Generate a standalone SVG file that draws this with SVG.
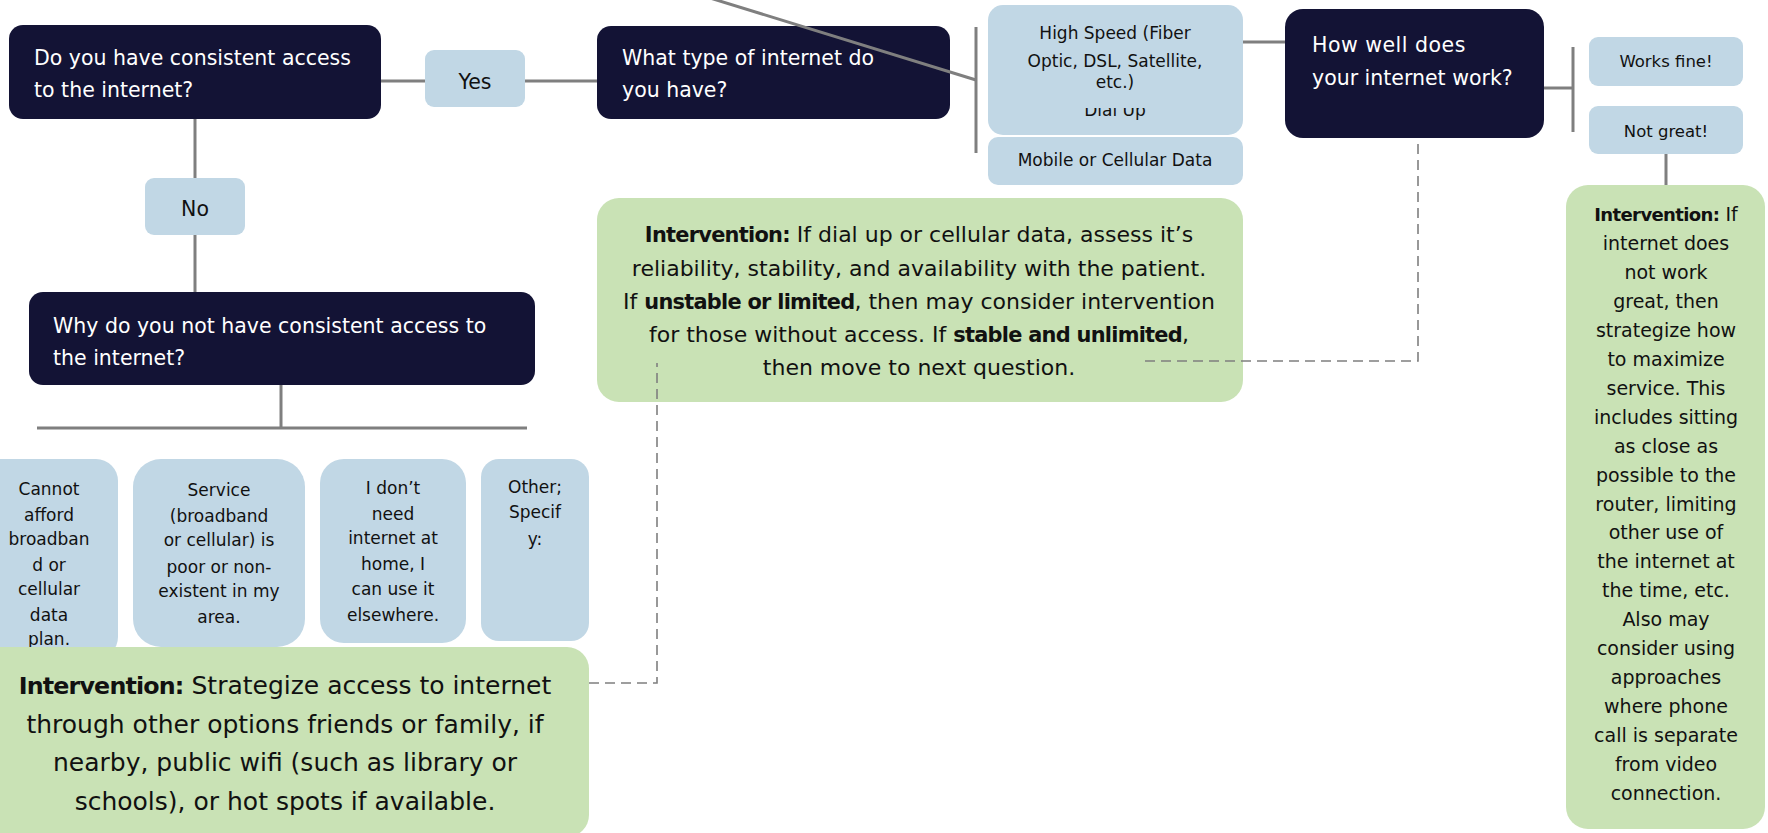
<svg xmlns="http://www.w3.org/2000/svg" width="1768" height="833" viewBox="0 0 1768 833">
<style>
  .dark { fill: #131335; }
  .lb { fill: #c1d7e5; }
  .gr { fill: #c9e2b5; }
  text { font-family: "DejaVu Sans", "Liberation Sans", sans-serif; }
  .q { fill: #ffffff; font-size: 20.5px; }
  .opt { fill: #111111; font-size: 17px; text-anchor: middle; }
  .yn { fill: #111111; font-size: 20.5px; text-anchor: middle; }
  .iv { fill: #111111; text-anchor: middle; }
  .b { font-weight: bold; font-size: 95%; letter-spacing: -0.035em; }
  .conn { stroke: #7f7f7f; stroke-width: 3; fill: none; }
  .dash { stroke: #7f7f7f; stroke-width: 1.6; stroke-dasharray: 10 6; fill: none; }
</style>
<defs>
  <clipPath id="dialClip"><rect x="988" y="108" width="255" height="27"/></clipPath>
</defs>

<g id="q-access">
  <rect class="dark" x="9" y="25" width="372" height="94" rx="14"/>
  <text class="q" x="34" y="65">Do you have consistent access</text>
  <text class="q" x="34" y="97">to the internet?</text>
</g>
<g id="a-yes">
  <rect class="lb" x="425" y="50" width="100" height="57" rx="9"/>
  <text class="yn" x="475" y="89">Yes</text>
</g>
<g id="a-no">
  <rect class="lb" x="145" y="178" width="100" height="57" rx="9"/>
  <text class="yn" x="195" y="216">No</text>
</g>
<g id="q-type">
  <rect class="dark" x="597" y="26" width="353" height="93" rx="14"/>
  <text class="q" x="622" y="65">What type of internet do</text>
  <text class="q" x="622" y="97">you have?</text>
</g>
<g id="opt-highspeed">
  <rect class="lb" x="988" y="5" width="255" height="130" rx="15"/>
  <text class="opt" x="1115" y="39">High Speed (Fiber</text>
  <text class="opt" x="1115" y="67">Optic, DSL, Satellite,</text>
  <text class="opt" x="1115" y="88">etc.)</text>
</g>
<g id="opt-dialup" clip-path="url(#dialClip)">
  <text class="opt" x="1115" y="116">Dial Up</text>
</g>
<g id="opt-mobile">
  <rect class="lb" x="988" y="137" width="255" height="48" rx="10"/>
  <text class="opt" x="1115" y="166">Mobile or Cellular Data</text>
</g>
<g id="q-howwell">
  <rect class="dark" x="1285" y="9" width="259" height="129" rx="18"/>
  <text class="q" x="1312" y="52" style="letter-spacing:0.5px">How well does</text>
  <text class="q" x="1312" y="85">your internet work?</text>
</g>
<g id="a-works">
  <rect class="lb" x="1589" y="37" width="154" height="49" rx="9"/>
  <text class="opt" x="1666" y="67" style="font-size:16.5px">Works fine!</text>
</g>
<g id="a-notgreat">
  <rect class="lb" x="1589" y="106" width="154" height="48" rx="9"/>
  <text class="opt" x="1666" y="137" style="font-size:16.5px">Not great!</text>
</g>
<g id="q-why">
  <rect class="dark" x="29" y="292" width="506" height="93" rx="14"/>
  <text class="q" x="53" y="333">Why do you not have consistent access to</text>
  <text class="q" x="53" y="365">the internet?</text>
</g>
<g id="opt-afford">
  <rect class="lb" x="-20" y="459" width="138" height="200" rx="22"/>
  <text class="opt" x="49" y="495">Cannot</text>
  <text class="opt" x="49" y="521">afford</text>
  <text class="opt" x="49" y="545">broadban</text>
  <text class="opt" x="49" y="571">d or</text>
  <text class="opt" x="49" y="595">cellular</text>
  <text class="opt" x="49" y="621">data</text>
  <text class="opt" x="49" y="645">plan.</text>
</g>
<g id="opt-service">
  <rect class="lb" x="133" y="459" width="172" height="188" rx="28"/>
  <text class="opt" x="219" y="496">Service</text>
  <text class="opt" x="219" y="522">(broadband</text>
  <text class="opt" x="219" y="546">or cellular) is</text>
  <text class="opt" x="219" y="573">poor or non-</text>
  <text class="opt" x="219" y="597">existent in my</text>
  <text class="opt" x="219" y="623">area.</text>
</g>
<g id="opt-noneed">
  <rect class="lb" x="320" y="459" width="146" height="184" rx="24"/>
  <text class="opt" x="393" y="494">I don’t</text>
  <text class="opt" x="393" y="520">need</text>
  <text class="opt" x="393" y="544">internet at</text>
  <text class="opt" x="393" y="570">home, I</text>
  <text class="opt" x="393" y="595">can use it</text>
  <text class="opt" x="393" y="621">elsewhere.</text>
</g>
<g id="opt-other">
  <rect class="lb" x="481" y="459" width="108" height="182" rx="18"/>
  <text class="opt" x="535" y="493">Other;</text>
  <text class="opt" x="535" y="518">Specif</text>
  <text class="opt" x="535" y="545">y:</text>
</g>
<g id="int-access">
  <rect class="gr" x="-20" y="647" width="609" height="190" rx="22"/>
  <text class="iv" x="285" y="694" style="font-size:25px"><tspan class="b">Intervention:</tspan> Strategize access to internet</text>
  <text class="iv" x="285" y="733" style="font-size:25px">through other options friends or family, if</text>
  <text class="iv" x="285" y="771" style="font-size:25px">nearby, public wifi (such as library or</text>
  <text class="iv" x="285" y="810" style="font-size:25px">schools), or hot spots if available.</text>
</g>
<g id="int-type">
  <rect class="gr" x="597" y="198" width="646" height="204" rx="22"/>
  <text class="iv" x="919" y="242" style="font-size:22px"><tspan class="b">Intervention:</tspan> If dial up or cellular data, assess it’s</text>
  <text class="iv" x="919" y="276" style="font-size:22px">reliability, stability, and availability with the patient.</text>
  <text class="iv" x="919" y="309" style="font-size:22px">If <tspan class="b">unstable or limited</tspan>, then may consider intervention</text>
  <text class="iv" x="919" y="342" style="font-size:22px">for those without access. If <tspan class="b">stable and unlimited</tspan>,</text>
  <text class="iv" x="919" y="375" style="font-size:22px">then move to next question.</text>
</g>
<g id="int-service" style="font-size:19px">
  <rect class="gr" x="1566" y="185" width="199" height="644" rx="22"/>
  <text class="iv" x="1666" y="221"><tspan class="b">Intervention:</tspan> If</text>
  <text class="iv" x="1666" y="250">internet does</text>
  <text class="iv" x="1666" y="279">not work</text>
  <text class="iv" x="1666" y="308">great, then</text>
  <text class="iv" x="1666" y="337">strategize how</text>
  <text class="iv" x="1666" y="366">to maximize</text>
  <text class="iv" x="1666" y="395">service. This</text>
  <text class="iv" x="1666" y="424">includes sitting</text>
  <text class="iv" x="1666" y="453">as close as</text>
  <text class="iv" x="1666" y="482">possible to the</text>
  <text class="iv" x="1666" y="511">router, limiting</text>
  <text class="iv" x="1666" y="539">other use of</text>
  <text class="iv" x="1666" y="568">the internet at</text>
  <text class="iv" x="1666" y="597">the time, etc.</text>
  <text class="iv" x="1666" y="626">Also may</text>
  <text class="iv" x="1666" y="655">consider using</text>
  <text class="iv" x="1666" y="684">approaches</text>
  <text class="iv" x="1666" y="713">where phone</text>
  <text class="iv" x="1666" y="742">call is separate</text>
  <text class="iv" x="1666" y="771">from video</text>
  <text class="iv" x="1666" y="800">connection.</text>
</g>

<g id="connectors">
  <line class="conn" x1="381" y1="81" x2="425" y2="81"/>
  <line class="conn" x1="525" y1="81" x2="597" y2="81"/>
  <line class="conn" x1="195" y1="119" x2="195" y2="178"/>
  <line class="conn" x1="195" y1="235" x2="195" y2="292"/>
  <line class="conn" x1="281" y1="385" x2="281" y2="428"/>
  <line class="conn" x1="37" y1="428" x2="527" y2="428"/>
  <line class="conn" x1="710" y1="-2" x2="976" y2="80"/>
  <line class="conn" x1="976" y1="27" x2="976" y2="153"/>
  <line class="conn" x1="1243" y1="42" x2="1285" y2="42"/>
  <line class="conn" x1="1544" y1="88" x2="1573" y2="88"/>
  <line class="conn" x1="1573" y1="47" x2="1573" y2="132"/>
  <line class="conn" x1="1666" y1="154" x2="1666" y2="185"/>
  <polyline class="dash" points="589,683 657,683 657,363"/>
  <polyline class="dash" points="1145,361 1418,361 1418,138"/>
</g>
</svg>
